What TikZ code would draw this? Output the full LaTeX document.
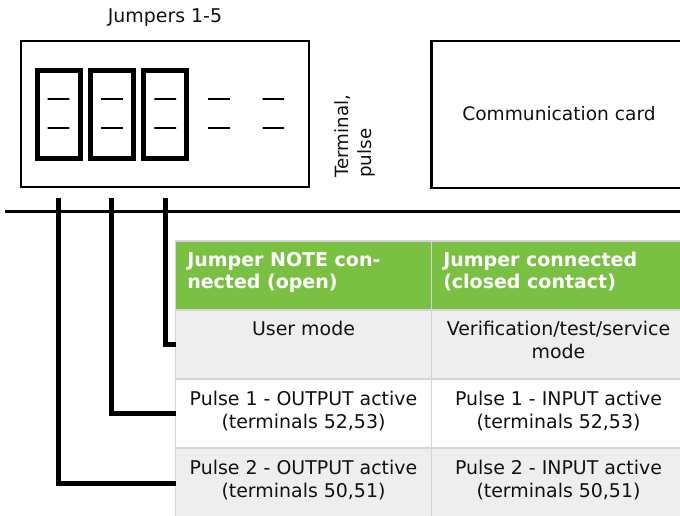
\documentclass[tikz,border=0pt]{standalone}
\usepackage{fontspec}
\setmainfont{DejaVu Sans}
\definecolor{hdrgreen}{HTML}{7AC143}
\definecolor{rowgrey}{HTML}{EEEEEE}
\definecolor{cellline}{HTML}{D4D4D4}
\definecolor{ink}{HTML}{111111}
\tikzset{
  pxbox/.style={draw=black,line width=2pt,fill=white,inner sep=0pt,outer sep=0pt,anchor=north west},
  jumperbox/.style={draw=black,line width=3.75pt,inner sep=0pt,outer sep=0pt,minimum width=32.25pt,minimum height=66pt,anchor=north west},
  pin/.style={draw=black,line width=1.6pt,inner sep=0pt,outer sep=0pt,minimum width=16.2pt,minimum height=0pt,shape=rectangle},
  wire/.style={draw=black,line width=3.75pt,line join=miter},
  rail/.style={draw=black,line width=1.6pt},
  cell/.style={draw=cellline,line width=0.9pt,inner sep=0pt,outer sep=0pt,minimum height=51.75pt,anchor=north west},
  lcol/.style={cell,minimum width=192pt},
  rcol/.style={cell,minimum width=192pt},
  greyfill/.style={fill=rowgrey},
  whitefill/.style={fill=white},
  greenfill/.style={fill=hdrgreen},
  txt/.style={text=ink,font=\fontsize{14.2pt}{17.25pt}\selectfont,align=center,inner sep=0pt},
  hdr/.style={text=white,font=\fontsize{14.25pt}{16.5pt}\selectfont\bfseries,align=left,inner sep=0pt,anchor=west},
}
\begin{document}
\begin{tikzpicture}[x=0.75pt,y=-0.75pt]
\useasboundingbox (0,0) rectangle (680,515);
% table
\node[lcol,greenfill] (h1) at (175.5,241) {};
\node[rcol,greenfill] (h2) at (431.5,241) {};
\node[lcol,greyfill] (r1a) at (175.5,310) {};
\node[rcol,greyfill] (r1b) at (431.5,310) {};
\node[lcol,whitefill] (r2a) at (175.5,379) {};
\node[rcol,whitefill] (r2b) at (431.5,379) {};
\node[lcol,greyfill,minimum height=53.25pt] (r3a) at (175.5,448) {};
\node[rcol,greyfill,minimum height=53.25pt] (r3b) at (431.5,448) {};
\node[hdr] (h1t) at (187,272) {Jumper NOTE con-\\nected (open)};
\node[hdr] (h2t) at (443,272) {Jumper connected\\(closed contact)};
\node[txt,anchor=center] (r1at) at (303.5,328) {User mode};
\node[txt,anchor=center] (r1bt) at (558.5,340) {Verification/test/service\\mode};
\node[txt,anchor=center] (r2at) at (303.5,410.7) {Pulse 1 - OUTPUT active\\(terminals 52,53)};
\node[txt,anchor=center] (r2bt) at (558.5,410.7) {Pulse 1 - INPUT active\\(terminals 52,53)};
\node[txt,anchor=center] (r3at) at (303.5,479.7) {Pulse 2 - OUTPUT active\\(terminals 50,51)};
\node[txt,anchor=center] (r3bt) at (558.5,479.7) {Pulse 2 - INPUT active\\(terminals 50,51)};
% boxes
\node[pxbox,minimum width=216pt,minimum height=109.5pt] (term) at (21,41) {};
\node[pxbox,minimum width=200pt,minimum height=110.25pt] (card) at (431.5,41) {};
\node[txt,anchor=center,font=\fontsize{13.95pt}{17pt}\selectfont] (cardt) at (559,114) {Communication card};
\node[txt,anchor=center] (title) at (165,17.5) {Jumpers 1-5};
\node[txt,anchor=south west,align=left,rotate=90,font=\fontsize{13.7pt}{17.25pt}\selectfont] (termt) at (376,178) {Terminal,\\pulse};
% jumpers
\node[jumperbox] (j1) at (37,70) {};
\node[jumperbox] (j2) at (90.3,70) {};
\node[jumperbox] (j3) at (143.7,70) {};
\foreach \n/\x in {a/58.5,b/112,c/165.2,d/219,e/273.3}{
  \node[pin] (p\n1) at (\x,99.3) {};
  \node[pin] (p\n2) at (\x,128.3) {};
}
% rail and wires
\coordinate (railL) at (5,211.5);
\coordinate (railR) at (680,211.5);
\draw[rail] (railL) -- (railR);
\coordinate (w1) at (58.3,198);
\coordinate (w2) at (111.7,198);
\coordinate (w3) at (165,198);
\draw[wire] (w3) |- (r1a.west);
\draw[wire] (w2) |- (r2a.west);
\draw[wire] (w1) |- (r3a.west);
\end{tikzpicture}
\end{document}
